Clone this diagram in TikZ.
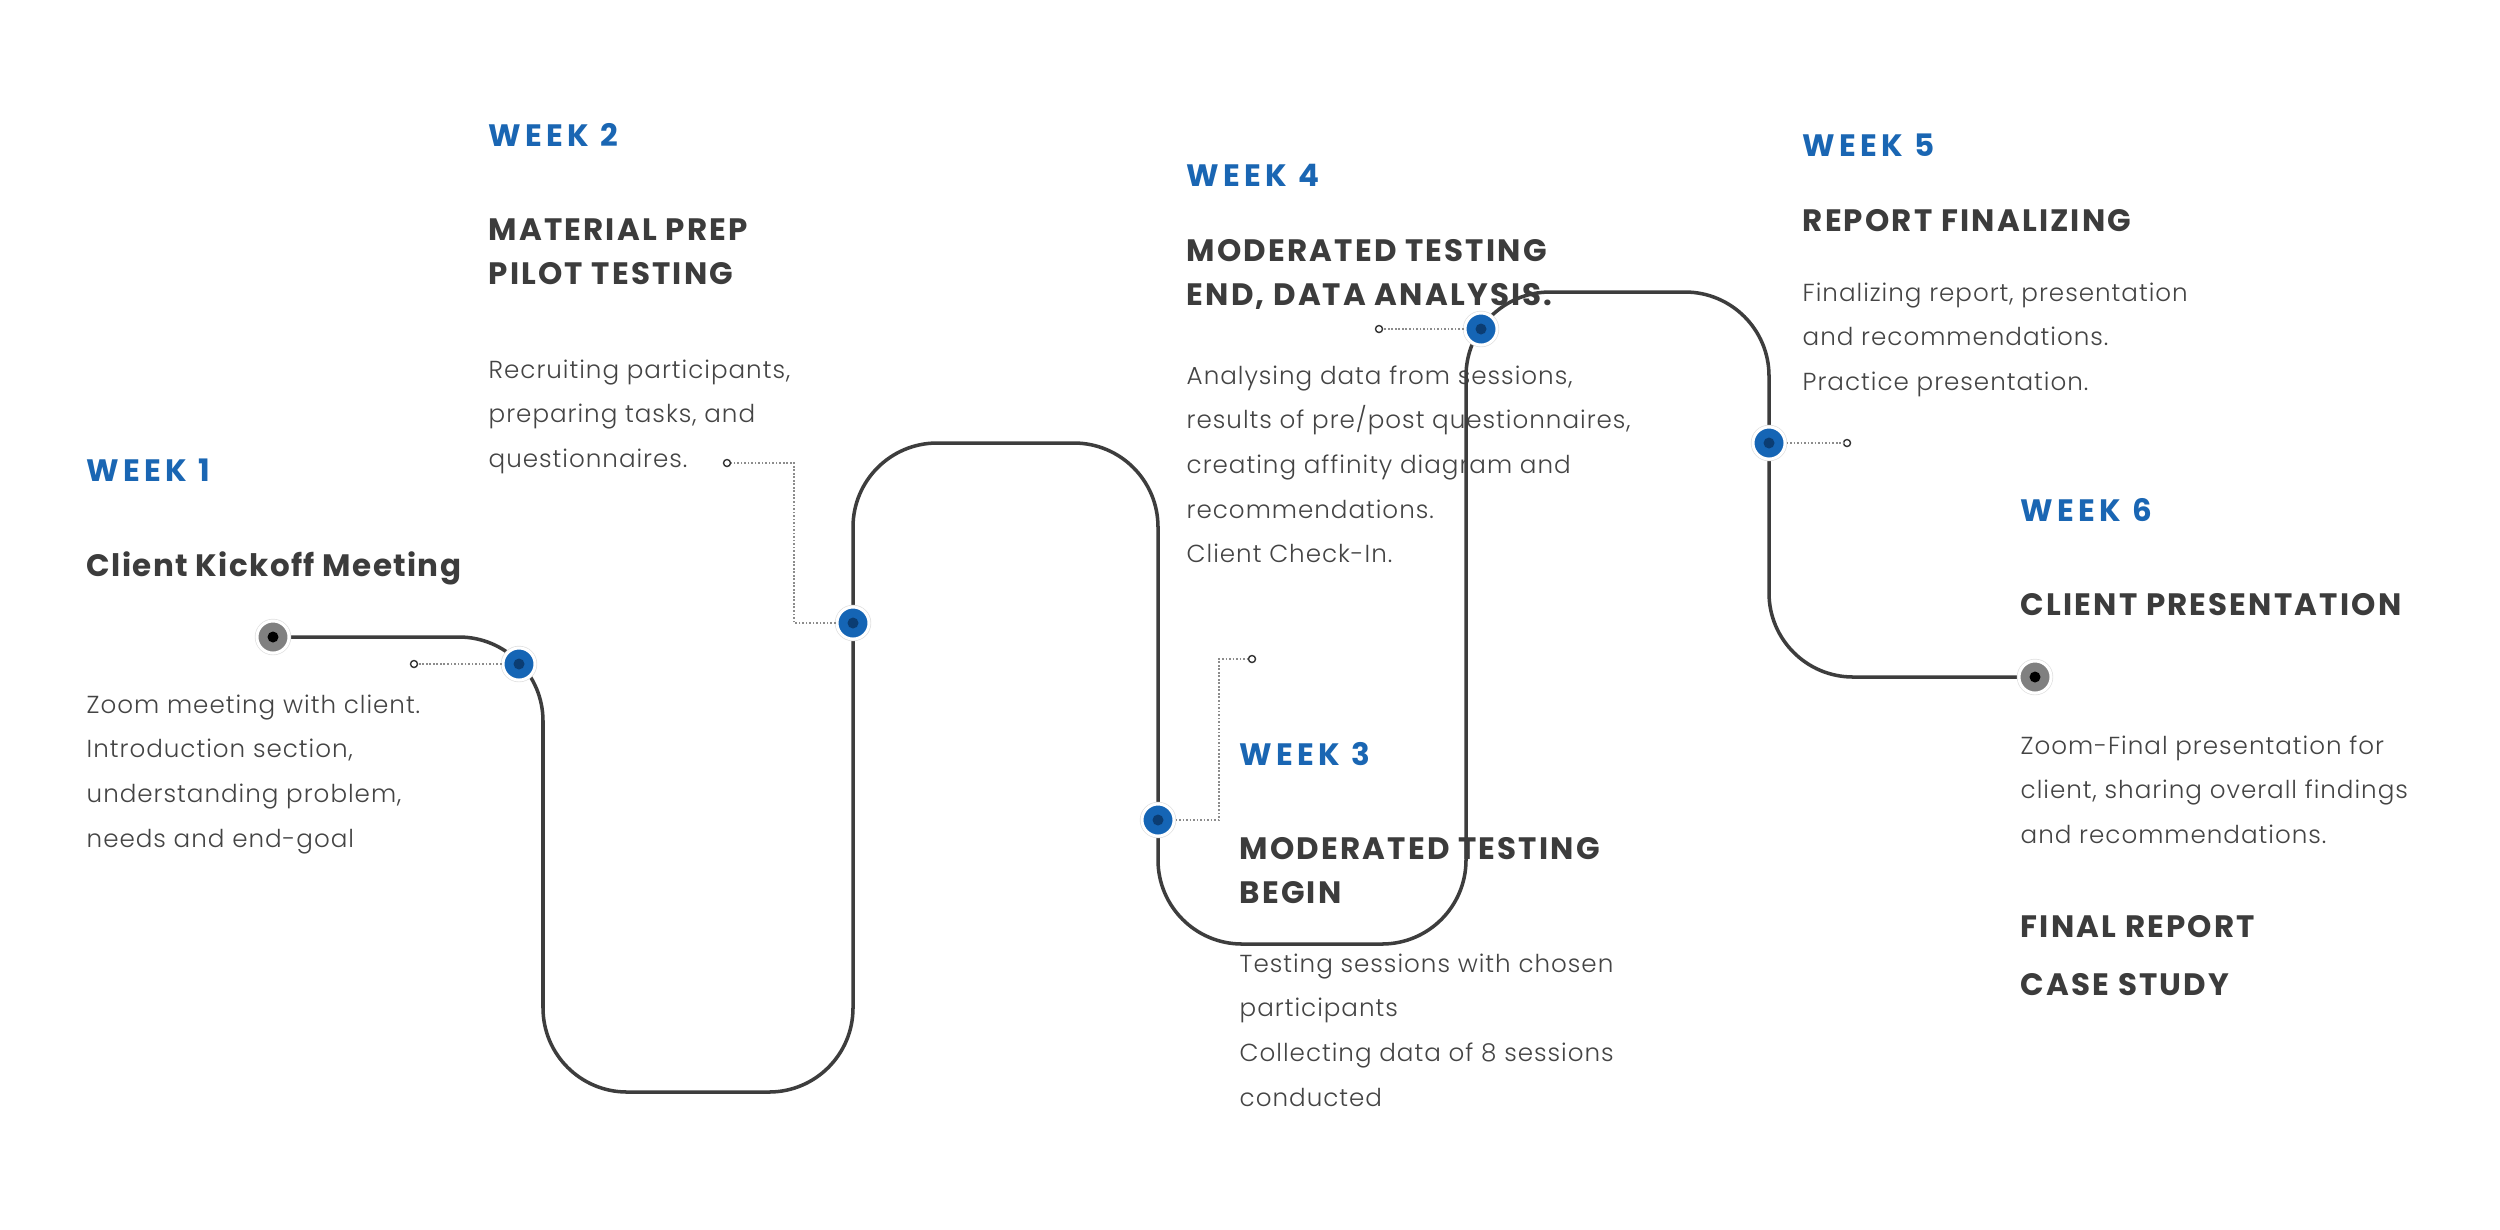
\documentclass[tikz,border=0pt]{standalone}
\usepackage{fontspec}
\setmainfont{Poppins}
\newfontfamily\bodyfont{Poppins Light}[LetterSpace=4]
\newfontfamily\headfont{Poppins}[LetterSpace=7]
\newfontfamily\headmixfont{Poppins}[LetterSpace=4.5]
\newfontfamily\weekfont{Poppins}[LetterSpace=14]
\usetikzlibrary{calc}
\definecolor{wkblue}{HTML}{1A66B3}
\definecolor{headgray}{HTML}{3C3C3C}
\definecolor{bodygray}{HTML}{444444}
\definecolor{linegray}{HTML}{3D3D3D}
\definecolor{dotblue}{HTML}{1565B5}
\definecolor{dotdark}{HTML}{0B3D73}
\definecolor{dotgray}{HTML}{808080}
\newcommand{\ml}[1]{\begin{tabular}[t]{@{}l@{}}#1\end{tabular}}
\pgfdeclarelayer{bglayer}
\pgfdeclarelayer{textlayer}
\pgfdeclarelayer{tracklayer}
\pgfsetlayers{bglayer,textlayer,tracklayer,main}
\begin{document}
\begin{tikzpicture}[x=0.01cm,y=-0.01cm,
  week/.style={anchor=base west, inner sep=0, text=wkblue, font=\weekfont\fontsize{8.8}{12.7}\selectfont\bfseries},
  head/.style={anchor=base west, inner sep=0, text=headgray, font=\headfont\fontsize{8.8}{12.7}\selectfont\bfseries},
  headmix/.style={head, font=\headmixfont\fontsize{8.8}{12.7}\selectfont\bfseries},
  body/.style={anchor=base west, inner sep=0, text=bodygray, font=\bodyfont\fontsize{7}{12.7}\selectfont},
  track/.style={draw=linegray, line width=1pt, rounded corners=0.84cm},
  conn/.style={draw=black!45, line width=0.35pt, dash pattern=on 0.5pt off 0.5pt},
  halo/.style={circle, inner sep=0, minimum size=0.32cm, draw=white, line width=0.85pt,
     preaction={draw=black!12, line width=1.25pt}},
  bdot/.style={halo, fill=dotblue, path picture={\fill[dotdark] (path picture bounding box.center) circle (0.055cm);}},
  gdot/.style={halo, fill=dotgray, path picture={\fill[black] (path picture bounding box.center) circle (0.055cm);}},
  odot/.style={circle, inner sep=0, minimum size=0.07cm, draw=black!80, fill=white, line width=0.4pt}]
\useasboundingbox (0,0) rectangle (2500,1229);
\begin{pgfonlayer}{bglayer}
\fill[white] (0,0) rectangle (2500,1229);
\end{pgfonlayer}

% texts
\begin{pgfonlayer}{textlayer}
\node[week] (w1) at (86,481) {WEEK 1};
\node[headmix] (h1) at (86,576) {Client Kickoff Meeting};
\node[body] (b1) at (86,713) {\ml{Zoom meeting with client.\\Introduction section,\\understanding problem,\\needs and end-goal}};

\node[week] (w2) at (488,146) {WEEK 2};
\node[head] (h2) at (488,240) {\ml{MATERIAL PREP\\PILOT TESTING}};
\node[body] (b2) at (488,378) {\ml{Recruiting participants,\\preparing tasks, and\\questionnaires.}};

\node[week] (w4) at (1186,186) {WEEK 4};
\node[head] (h4) at (1186,261) {\ml{MODERATED TESTING\\END, DATA ANALYSIS.}};
\node[body] (b4) at (1186,384) {\ml{Analysing data from sessions,\\results of pre/post questionnaires,\\creating affinity diagram and\\recommendations.\\Client Check-In.}};

\node[week] (w3) at (1239,765) {WEEK 3};
\node[head] (h3) at (1239,859) {\ml{MODERATED TESTING\\BEGIN}};
\node[body] (b3) at (1239,972) {\ml{Testing sessions with chosen\\participants\\Collecting data of 8 sessions\\conducted}};

\node[week] (w5) at (1802,156) {WEEK 5};
\node[head] (h5) at (1802,231) {REPORT FINALIZING};
\node[body] (b5) at (1802,301) {\ml{Finalizing report, presentation\\and recommendations.\\Practice presentation.}};

\node[week] (w6) at (2020,521) {WEEK 6};
\node[head] (h6) at (2020,615) {CLIENT PRESENTATION};
\node[body] (b6) at (2020,754) {\ml{Zoom-Final presentation for\\client, sharing overall findings\\and recommendations.}};
\node[head] (f1) at (2020,937) {FINAL REPORT};
\node[head] (f2) at (2020,995) {CASE STUDY};
\end{pgfonlayer}

% dots
\node[gdot] (g1) at (273,637) {};
\node[gdot] (g2) at (2035,677) {};
\node[bdot] (d1) at (519,664) {};
\node[bdot] (d2) at (853,623) {};
\node[bdot] (d3) at (1158,820) {};
\node[bdot] (d4) at (1481,329) {};
\node[bdot] (d5) at (1769,443) {};

% small open circles
\node[odot] (c1) at (414,664) {};
\node[odot] (c2) at (727,463) {};
\node[odot] (c3) at (1252,659) {};
\node[odot] (c4) at (1379,329) {};
\node[odot] (c5) at (1847,443) {};
\coordinate (k2) at (794,623);
\coordinate (k3) at (1219,820);

% connectors
\draw[conn] (d1) -- (c1);
\draw[conn] (d2) -- (k2) |- (c2);
\draw[conn] (d3) -- (k3) |- (c3);
\draw[conn] (d4) -- (c4);
\draw[conn] (d5) -- (c5);

% track
\begin{pgfonlayer}{tracklayer}
\draw[track] (g1.center) -- (543,637) -- (543,1092) -- (853,1092) -- (853,443)
  -- (1158,443) -- (1158,944) -- (1466,944) -- (1466,292) -- (1769,292)
  -- (1769,677) -- (g2.center);
\end{pgfonlayer}
\end{tikzpicture}
\end{document}
